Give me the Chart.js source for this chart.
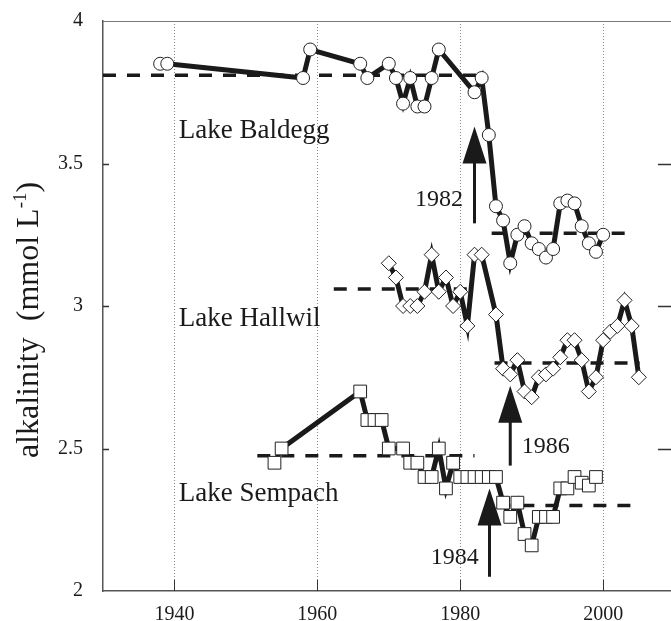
<!DOCTYPE html>
<html lang="en">
<head>
<meta charset="utf-8">
<title>Alkalinity of Lake Baldegg, Hallwil and Sempach</title>
<script src="https://cdn.jsdelivr.net/npm/chart.js@4"></script>
<style>
  body { margin: 0; background: #fff; }
</style>
</head>
<body>
<canvas id="myChart" width="671" height="621"></canvas>
<script>
// values (year, alkalinity in mmol/L)
const baldeggYears = [1938, 1939, 1958, 1959, 1966, 1967, 1970, 1971, 1972, 1973, 1974, 1975, 1976, 1977,
  1982, 1983, 1984, 1985, 1986, 1987, 1988, 1989, 1990, 1991, 1992, 1993, 1994, 1995, 1996, 1997, 1998, 1999, 2000];
const baldeggAlk = [3.85, 3.85, 3.80, 3.90, 3.85, 3.80, 3.85, 3.80, 3.71, 3.80, 3.70, 3.70, 3.80, 3.90,
  3.75, 3.80, 3.60, 3.35, 3.30, 3.15, 3.25, 3.28, 3.22, 3.20, 3.17, 3.20, 3.36, 3.37, 3.36, 3.28, 3.22, 3.19, 3.25];

const hallwilYears = [1970, 1971, 1972, 1973, 1974, 1975, 1976, 1977, 1978, 1979, 1980, 1981, 1982, 1983,
  1985, 1986, 1987, 1988, 1989, 1990, 1991, 1992, 1993, 1994, 1995, 1996, 1997, 1998, 1999, 2000, 2001, 2002, 2003, 2004, 2005];
const hallwilAlk = [3.15, 3.10, 3.00, 3.00, 3.00, 3.05, 3.18, 3.05, 3.10, 3.00, 3.05, 2.93, 3.18, 3.18,
  2.97, 2.78, 2.76, 2.81, 2.70, 2.68, 2.75, 2.76, 2.78, 2.82, 2.88, 2.88, 2.81, 2.70, 2.75, 2.88, 2.91, 2.93, 3.02, 2.93, 2.75];

const sempachYears = [1954, 1955, 1966, 1967, 1968, 1969, 1970, 1972, 1973, 1974, 1975, 1976, 1977, 1978, 1979, 1980,
  1981, 1982, 1983, 1984, 1985, 1986, 1987, 1988, 1989, 1990, 1991, 1992, 1993, 1994, 1995, 1996, 1997, 1998, 1999];
const sempachAlk = [2.45, 2.50, 2.70, 2.60, 2.60, 2.60, 2.50, 2.50, 2.45, 2.45, 2.40, 2.40, 2.50, 2.36, 2.45, 2.40,
  2.40, 2.40, 2.40, 2.40, 2.40, 2.31, 2.26, 2.31, 2.20, 2.16, 2.26, 2.26, 2.26, 2.36, 2.36, 2.40, 2.38, 2.37, 2.40];

// mean levels before / after the change: [fromYear, toYear, alkalinity]
const baldeggMeans = [[1930, 1983.2, 3.81], [1984.4, 2004.1, 3.255]];
const hallwilMeans = [[1962.3, 1982.3, 3.06], [1984.8, 2005.1, 2.80]];
const sempachMeans = [[1951.6, 1982.0, 2.475], [1985.2, 2004.8, 2.30]];

// arrows marking the start of the change
const arrowYears = [1982, 1987, 1984.1];
const arrowTails = [3.29, 2.44, 2.05];
const arrowTips = [3.63, 2.72, 2.36];
const arrowLabels = ['1982', '1986', '1984'];
const arrowLabelYears = [1980.4, 1988.6, 1982.6];
const arrowLabelAlk = [3.372, 2.505, 2.116];
const arrowLabelAlign = ['right', 'left', 'right'];

const lakeNames = ['Lake Baldegg', 'Lake Hallwil', 'Lake Sempach'];
const lakeNameYears = [1940.6, 1940.6, 1940.6];
const lakeNameAlk = [3.589, 2.93, 2.316];

const xTicks = [1940, 1960, 1980, 2000];
const yTicks = [2, 2.5, 3, 3.5, 4];

const serif = '"Liberation Serif", "Times New Roman", serif';
const ink = '#1a1a1a';

function toPoints(xs, ys) {
  return xs.map((v, i) => ({ x: v, y: ys[i] }));
}

function series(xs, ys, style, radius) {
  return {
    data: toPoints(xs, ys),
    borderColor: ink,
    borderWidth: 5,
    pointStyle: style,
    pointRadius: radius,
    pointBackgroundColor: '#fff',
    pointBorderColor: '#222',
    pointBorderWidth: 1,
    tension: 0,
    order: 1
  };
}

function meanLines(means) {
  return means.map(m => ({
    data: [{ x: m[0], y: m[2] }, { x: m[1], y: m[2] }],
    borderColor: ink,
    borderWidth: 3.5,
    borderDash: [13, 11],
    pointRadius: 0,
    order: 2
  }));
}

// no extra room for the outer tick labels, the layout padding handles it
function noPadding(s) {
  s.paddingTop = 0;
  s.paddingBottom = 0;
  s.paddingLeft = 0;
  s.paddingRight = 0;
}

const decorations = {
  id: 'decorations',
  beforeDatasetsDraw(chart) {
    const { ctx, chartArea: a, scales: { x, y } } = chart;
    ctx.save();
    // top frame
    ctx.strokeStyle = '#777';
    ctx.lineWidth = 1;
    ctx.beginPath();
    ctx.moveTo(a.left, a.top + 0.5);
    ctx.lineTo(a.right, a.top + 0.5);
    ctx.stroke();
    // inward tick marks
    ctx.strokeStyle = '#333';
    ctx.lineWidth = 1.5;
    yTicks.slice(1, -1).forEach(v => {
      const py = Math.round(y.getPixelForValue(v)) + 0.5;
      ctx.beginPath();
      ctx.moveTo(a.left, py);
      ctx.lineTo(a.left + 6, py);
      ctx.moveTo(a.right - 13, py);
      ctx.lineTo(a.right, py);
      ctx.stroke();
    });
    ctx.lineWidth = 1;
    xTicks.forEach(v => {
      const px = Math.round(x.getPixelForValue(v)) + 0.5;
      ctx.beginPath();
      ctx.moveTo(px, a.bottom);
      ctx.lineTo(px, a.bottom - 11);
      ctx.stroke();
    });
    ctx.restore();
  },
  afterDatasetsDraw(chart) {
    const { ctx, scales: { x, y } } = chart;
    ctx.save();
    ctx.fillStyle = ink;
    ctx.strokeStyle = ink;
    // arrows
    arrowYears.forEach((yr, i) => {
      const px = x.getPixelForValue(yr);
      const tail = y.getPixelForValue(arrowTails[i]);
      const tip = y.getPixelForValue(arrowTips[i]);
      ctx.lineWidth = 3;
      ctx.beginPath();
      ctx.moveTo(px, tail);
      ctx.lineTo(px, tip + 30);
      ctx.stroke();
      ctx.beginPath();
      ctx.moveTo(px, tip);
      ctx.lineTo(px + 12, tip + 37);
      ctx.lineTo(px - 12, tip + 37);
      ctx.closePath();
      ctx.fill();
      ctx.font = '24px ' + serif;
      ctx.textAlign = arrowLabelAlign[i];
      ctx.textBaseline = 'middle';
      ctx.fillText(arrowLabels[i], x.getPixelForValue(arrowLabelYears[i]), y.getPixelForValue(arrowLabelAlk[i]));
    });
    // lake names
    ctx.font = '27px ' + serif;
    ctx.textAlign = 'left';
    ctx.textBaseline = 'alphabetic';
    lakeNames.forEach((name, i) => {
      ctx.fillText(name, x.getPixelForValue(lakeNameYears[i]), y.getPixelForValue(lakeNameAlk[i]));
    });
    ctx.restore();
  },
  afterDraw(chart) {
    // y axis title with superscript
    const ctx = chart.ctx;
    const main = 'alkalinity  (mmol L', sup = '-1', close = ')';
    const bigFont = '32px ' + serif, smallFont = '19px ' + serif;
    ctx.save();
    ctx.fillStyle = ink;
    ctx.font = bigFont;
    const w1 = ctx.measureText(main).width;
    const w3 = ctx.measureText(close).width;
    ctx.font = smallFont;
    const w2 = ctx.measureText(sup).width;
    const total = w1 + w2 + w3;
    ctx.translate(38, 320);
    ctx.rotate(-Math.PI / 2);
    ctx.textBaseline = 'alphabetic';
    ctx.textAlign = 'left';
    let sx = -total / 2;
    ctx.font = bigFont;
    ctx.fillText(main, sx, 0);
    sx += w1;
    ctx.font = smallFont;
    ctx.fillText(sup, sx, -12);
    sx += w2;
    ctx.font = bigFont;
    ctx.fillText(close, sx, 0);
    ctx.restore();
  }
};

const ctx = document.getElementById('myChart').getContext('2d');
const myChart = new Chart(ctx, {
  type: 'line',
  data: {
    datasets: [
      series(baldeggYears, baldeggAlk, 'circle', 6.5),
      series(hallwilYears, hallwilAlk, 'rectRot', 7.5),
      series(sempachYears, sempachAlk, 'rect', 9),
      ...meanLines(baldeggMeans),
      ...meanLines(hallwilMeans),
      ...meanLines(sempachMeans)
    ]
  },
  options: {
    responsive: false,
    animation: false,
    devicePixelRatio: 1,
    layout: { autoPadding: false, padding: { top: 21, right: 0, bottom: 0, left: 0 } },
    plugins: {
      legend: { display: false },
      tooltip: { enabled: false }
    },
    scales: {
      x: {
        type: 'linear',
        min: 1930,
        max: 2009.5,
        afterBuildTicks: s => { s.ticks = xTicks.map(v => ({ value: v })); },
        afterFit: s => { s.height = 30; noPadding(s); },
        grid: { color: '#888', lineWidth: 1, drawTicks: false },
        border: { color: '#555', width: 1.5, dash: [1, 2] },
        ticks: {
          callback: v => String(v),
          autoSkip: false,
          maxRotation: 0,
          padding: 12,
          color: ink,
          font: { family: serif, size: 20 }
        }
      },
      y: {
        min: 2,
        max: 4,
        afterBuildTicks: s => { s.ticks = yTicks.map(v => ({ value: v })); },
        afterFit: s => { s.width = 103; noPadding(s); },
        grid: { display: false, drawTicks: false },
        border: { color: '#555', width: 1.5 },
        ticks: {
          callback: v => String(v),
          autoSkip: false,
          padding: 20,
          color: ink,
          font: { family: serif, size: 20 }
        }
      }
    }
  },
  plugins: [decorations]
});
</script>
</body>
</html>
